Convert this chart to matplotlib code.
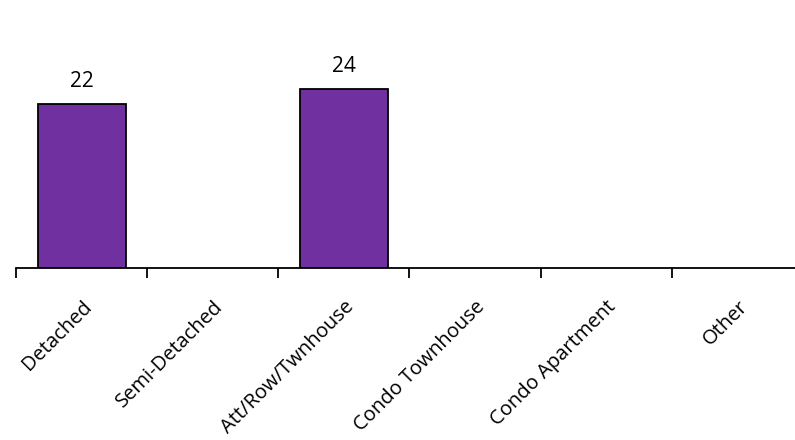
import matplotlib
matplotlib.use("Agg")
import matplotlib.pyplot as plt
import numpy as np

categories = ["Detached", "Semi-Detached", "Att/Row/Twnhouse",
              "Condo Townhouse", "Condo Apartment", "Other"]
values = [22, 0, 24, 0, 0, 0]

plt.rcParams['font.family'] = ['Open Sans', 'DejaVu Sans']

fig = plt.figure(figsize=(7.95, 4.4), dpi=100)
ax = fig.add_axes([16 / 795, 1 - 268 / 440, 787 / 795, 268 / 440])

x = np.arange(len(categories))
for xi, v in zip(x, values):
    if v > 0:
        ax.bar(xi, v, width=0.67, color="#7030A0", edgecolor="black", linewidth=1.3)
        ax.text(xi, v + 1.6, str(v), ha="center", va="bottom", fontsize=15)

ax.set_xlim(-0.5, len(categories) - 0.5)
ax.set_ylim(0, 36)
ax.set_xticks(x)
ax.set_xticklabels(categories, rotation=45, ha="right", rotation_mode="anchor", fontsize=14.5)
ax.set_xticks(np.arange(-0.5, len(categories) - 0.4, 1), minor=True)
ax.tick_params(axis="x", which="major", length=0, pad=21)
ax.tick_params(axis="x", which="minor", length=7, width=1.3)
ax.set_yticks([])
for s in ["top", "right", "left"]:
    ax.spines[s].set_visible(False)
ax.spines["bottom"].set_linewidth(1.3)

fig.savefig("out.png", dpi=100)
